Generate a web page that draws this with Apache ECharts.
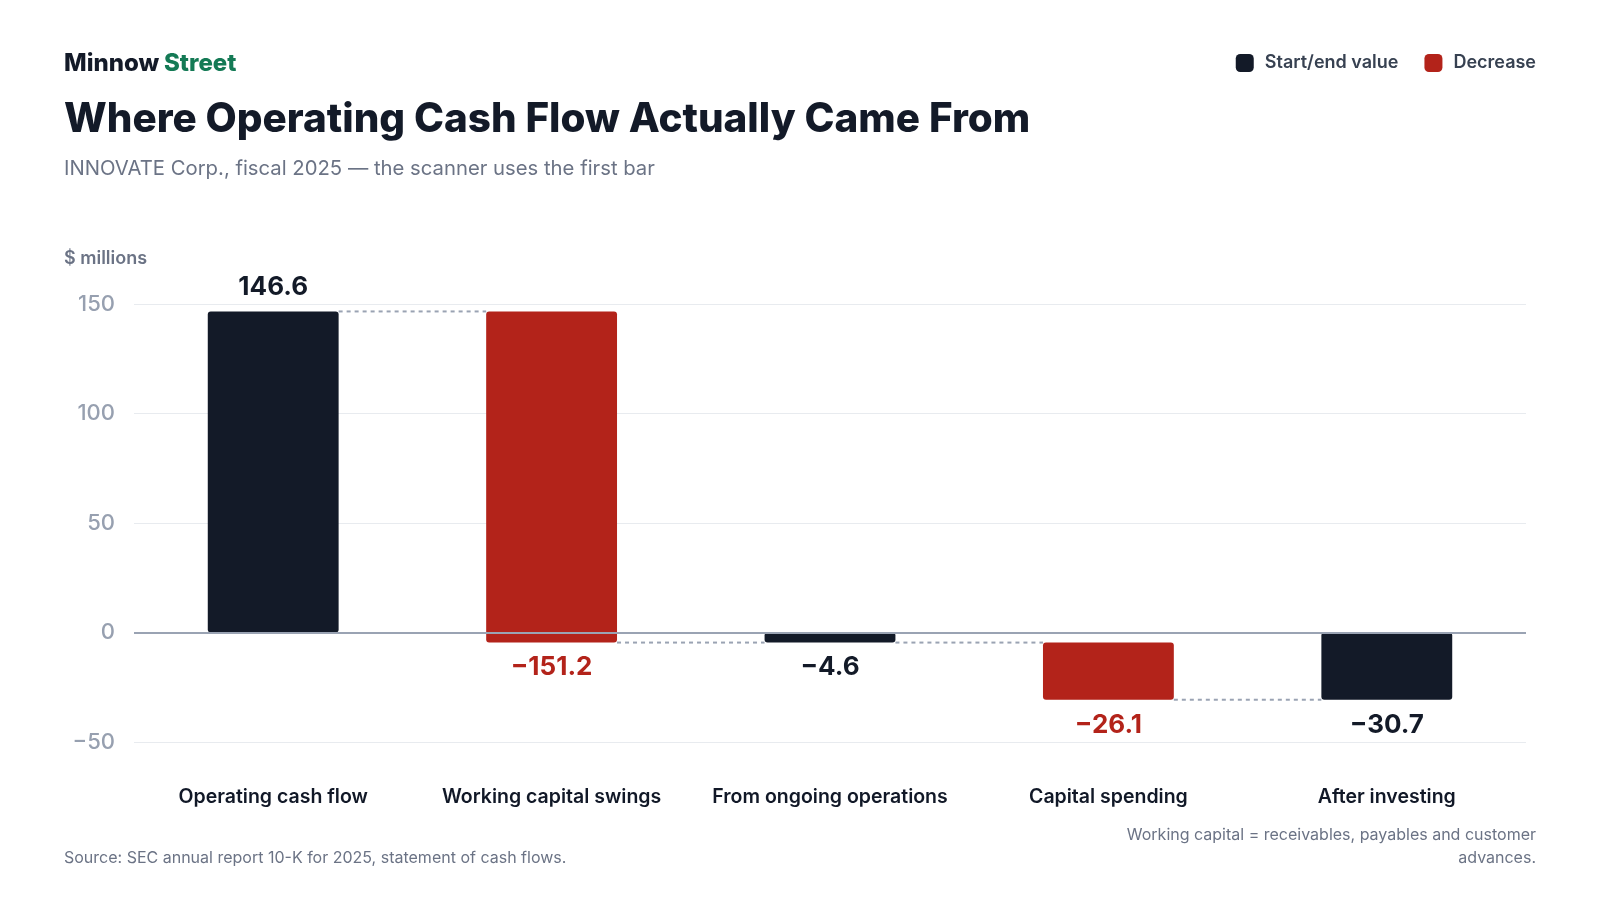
<!DOCTYPE html>
<html>
<head>
<meta charset="utf-8">
<script src="https://cdn.jsdelivr.net/npm/echarts@6/dist/echarts.min.js"></script>
<style>
  html, body { margin: 0; padding: 0; background: #fff; }
  #chart { width: 1600px; height: 900px; }
</style>
</head>
<body>
<div id="chart"></div>
<script>
// chart data
const categories = ['Operating cash flow', 'Working capital swings', 'From ongoing operations', 'Capital spending', 'After investing'];
const values = [146.6, -151.2, -4.6, -26.1, -30.7];
const kinds = ['total', 'delta', 'total', 'delta', 'total'];
const yTicks = [-50, 0, 50, 100, 150];

const DARK = '#131a28';
const RED = '#b3231a';
const FONT = 'Inter, "Noto Sans", sans-serif';

// build waterfall ranges: [index, low, high, value]
let running = 0;
const totalData = [];
const deltaData = [];
const links = [];
values.forEach((v, i) => {
  let low, high, end;
  if (kinds[i] === 'total') {
    low = Math.min(0, v); high = Math.max(0, v); end = v;
  } else {
    end = running + v;
    low = Math.min(running, end); high = Math.max(running, end);
  }
  (kinds[i] === 'total' ? totalData : deltaData).push([i, low, high, v]);
  if (i < values.length - 1) links.push([i, end]);
  running = end;
});

function fmt(v) {
  return (v < 0 ? '\u2212' : '') + Math.abs(v).toFixed(1);
}

function barRenderer(color) {
  return function (params, api) {
    const i = api.value(0);
    const low = api.value(1), high = api.value(2), v = api.value(3);
    const band = api.size([1, 0])[0];
    const w = band * 0.47;
    const pTop = api.coord([i, high]);
    const pBot = api.coord([i, low]);
    const x = pTop[0] - w / 2;
    const labelY = v >= 0 ? pTop[1] - 24 : pBot[1] + 25;
    return {
      type: 'group',
      children: [
        {
          type: 'rect',
          shape: { x: x, y: pTop[1], width: w, height: Math.max(1, pBot[1] - pTop[1]), r: 3 },
          style: { fill: color }
        },
        {
          type: 'text',
          x: pTop[0], y: labelY,
          style: {
            text: fmt(v), fill: color, font: '700 26px ' + FONT,
            align: 'center', verticalAlign: 'middle'
          }
        }
      ]
    };
  };
}

const option = {
  backgroundColor: '#fff',
  animation: false,
  textStyle: { fontFamily: FONT },
  legend: {
    right: 59, top: 49,
    itemWidth: 18, itemHeight: 18, itemGap: 26,
    icon: 'roundRect',
    textStyle: { fontSize: 18, fontWeight: 600, color: '#374151', fontFamily: FONT, padding: [0, 0, 0, 6] },
    data: ['Start/end value', 'Decrease']
  },
  grid: { left: 134, right: 74, top: 304, bottom: 158 },
  xAxis: {
    type: 'category',
    data: categories,
    axisLine: { show: false },
    axisTick: { show: false },
    axisLabel: {
      interval: 0, margin: 45,
      fontSize: 19.5, fontWeight: 600, color: '#111827', fontFamily: FONT
    }
  },
  yAxis: {
    type: 'value',
    min: -50, max: 150, interval: 50,
    axisLine: { show: false },
    axisTick: { show: false },
    splitLine: { lineStyle: { color: '#e8ebef', width: 1 } },
    axisLabel: {
      margin: 19, fontSize: 22, fontWeight: 500, color: '#97a0b0', fontFamily: FONT,
      formatter: v => (v < 0 ? '\u2212' + Math.abs(v) : String(v))
    }
  },
  graphic: [
    { type: 'text', left: 64, top: 52, style: { text: 'Minnow', font: '800 24px ' + FONT, fill: '#131a28' } },
    { type: 'text', left: 164, top: 52, style: { text: 'Street', font: '800 24px ' + FONT, fill: '#147a55' } },
    { type: 'text', left: 64, top: 100, style: { text: 'Where Operating Cash Flow Actually Came From', font: '800 40.4px ' + FONT, fill: '#131a28' } },
    { type: 'text', left: 64, top: 159, style: { text: 'INNOVATE Corp., fiscal 2025 \u2014 the scanner uses the first bar', font: '400 20.3px ' + FONT, fill: '#6b7385' } },
    { type: 'text', left: 64, top: 250, style: { text: '$ millions', font: '600 18px ' + FONT, fill: '#6b7385' } },
    { type: 'text', left: 64, top: 850, style: { text: 'Source: SEC annual report 10-K for 2025, statement of cash flows.', font: '400 16px ' + FONT, fill: '#6b7385' } },
    { type: 'text', right: 64, top: 827, style: { text: 'Working capital = receivables, payables and customer', font: '400 16px ' + FONT, fill: '#6b7385' } },
    { type: 'text', right: 64, top: 850, style: { text: 'advances.', font: '400 16px ' + FONT, fill: '#6b7385' } }
  ],
  series: [
    {
      name: 'zero',
      type: 'line',
      data: [],
      markLine: {
        silent: true, symbol: 'none', label: { show: false },
        lineStyle: { color: '#9aa3b3', width: 2, type: 'solid' },
        data: [{ yAxis: 0 }]
      }
    },
    {
      name: 'links',
      type: 'custom',
      data: links,
      z: 1,
      renderItem: function (params, api) {
        const i = api.value(0);
        const lvl = api.value(1);
        const band = api.size([1, 0])[0];
        const w = band * 0.47;
        const a = api.coord([i, lvl]);
        const b = api.coord([i + 1, lvl]);
        return {
          type: 'line',
          shape: { x1: a[0] + w / 2, y1: a[1], x2: b[0] - w / 2, y2: b[1] },
          style: { stroke: '#9aa3b3', lineWidth: 2, lineDash: [4, 4] }
        };
      }
    },
    {
      name: 'Start/end value',
      type: 'custom',
      itemStyle: { color: DARK },
      data: totalData,
      z: 3,
      renderItem: barRenderer(DARK)
    },
    {
      name: 'Decrease',
      type: 'custom',
      itemStyle: { color: RED },
      data: deltaData,
      z: 3,
      renderItem: barRenderer(RED)
    }
  ]
};

const chart = echarts.init(document.getElementById('chart'));
chart.setOption(option);
</script>
</body>
</html>
